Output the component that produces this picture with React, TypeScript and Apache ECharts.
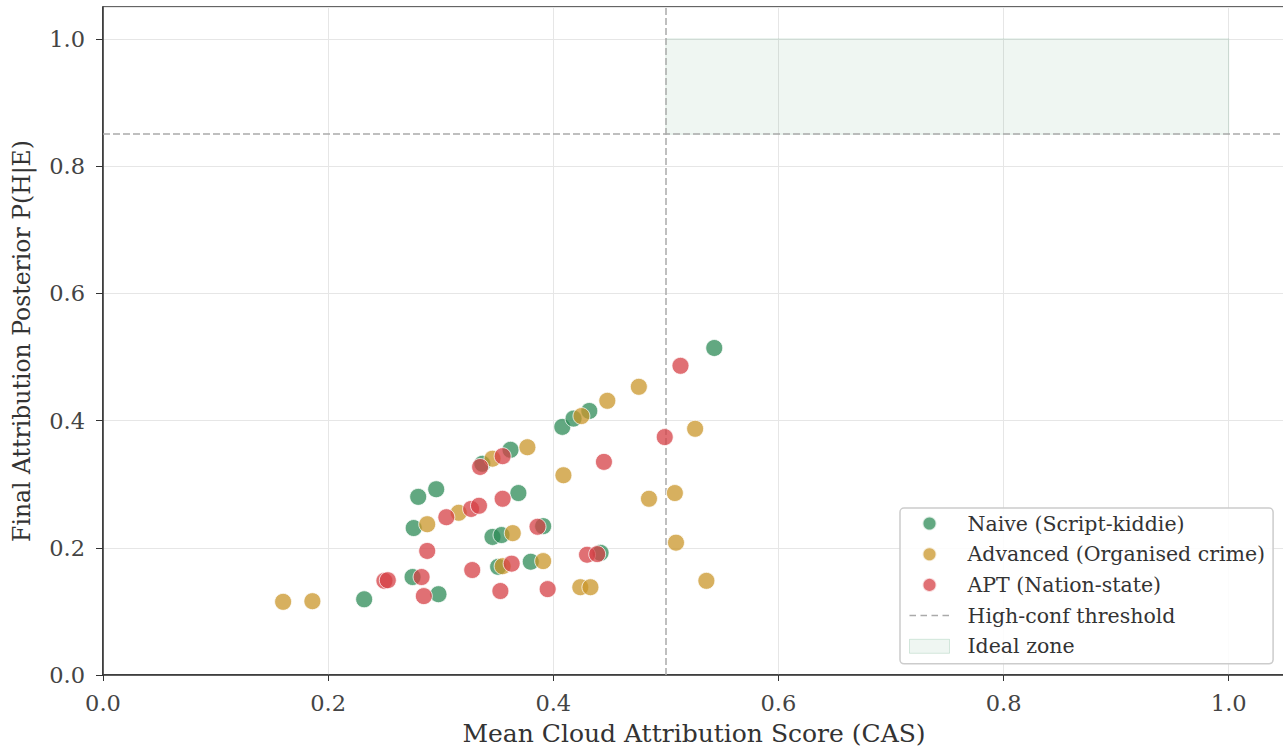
import React, { useEffect, useRef } from "react";
import * as echarts from "echarts";

// ---- data ----
const naiveX = [0.543, 0.408, 0.418, 0.432, 0.362, 0.337, 0.280, 0.296, 0.369, 0.276, 0.346, 0.354, 0.391, 0.275, 0.351, 0.380, 0.442, 0.232, 0.298];
const naiveY = [0.514, 0.390, 0.403, 0.415, 0.354, 0.332, 0.280, 0.292, 0.286, 0.231, 0.217, 0.220, 0.234, 0.154, 0.170, 0.178, 0.192, 0.119, 0.127];

const advX = [0.160, 0.186, 0.288, 0.316, 0.346, 0.377, 0.364, 0.355, 0.391, 0.409, 0.425, 0.448, 0.476, 0.526, 0.485, 0.508, 0.509, 0.536, 0.424, 0.433];
const advY = [0.115, 0.116, 0.237, 0.255, 0.340, 0.358, 0.223, 0.171, 0.179, 0.314, 0.407, 0.431, 0.453, 0.387, 0.277, 0.286, 0.208, 0.148, 0.138, 0.138];

const aptX = [0.513, 0.499, 0.445, 0.335, 0.355, 0.305, 0.327, 0.334, 0.355, 0.386, 0.288, 0.328, 0.363, 0.250, 0.253, 0.283, 0.285, 0.353, 0.395, 0.430, 0.439];
const aptY = [0.486, 0.374, 0.335, 0.327, 0.344, 0.248, 0.261, 0.266, 0.277, 0.233, 0.195, 0.165, 0.175, 0.148, 0.149, 0.154, 0.124, 0.132, 0.135, 0.189, 0.190];

const seriesNames = ["Naive (Script-kiddie)", "Advanced (Organised crime)", "APT (Nation-state)"];
const thresholdName = "High-conf threshold";
const zoneName = "Ideal zone";
const posteriorThreshold = 0.85;
const casThreshold = 0.5;
const zoneX = [0.5, 1.0];
const zoneY = [0.85, 1.0];
const axisMax = 1.05;
const tickInterval = 0.2;

const colors = ["#2E8B57", "#C9962A", "#D64045"];
const FONT = "DejaVu Serif";

// dashed-line legend icon (degenerate corner points fix the box at 40x14)
const DASH_ICON =
  "path://M0,0L0.01,0L0,0.01Z M40,14L39.99,14L40,13.99Z " +
  "M0,6.25H6.5V7.75H0Z M11,6.25H17.5V7.75H11Z M22,6.25H28.5V7.75H22Z M33,6.25H39.5V7.75H33Z";

const zip = (xs: number[], ys: number[]) => xs.map((x, i) => [x, ys[i]]);

export default function App() {
  const ref = useRef<HTMLDivElement>(null);
  useEffect(() => {
    if (!ref.current) return;
    const chart = echarts.init(ref.current, undefined, { renderer: "svg" });
    const scatter = (name: string, data: number[][], color: string) => ({
      name,
      type: "scatter",
      data,
      symbolSize: 17,
      itemStyle: { color, opacity: 0.75, borderColor: "#ffffff", borderWidth: 1 },
      z: 5,
    });
    const tickLabel = {
      fontFamily: FONT,
      fontSize: 22.5,
      color: "#444",
      showMaxLabel: false,
      formatter: (v: number) => v.toFixed(1),
    };
    chart.setOption({
      animation: false,
      backgroundColor: "#ffffff",
      grid: {
        left: 103,
        top: 7,
        width: 1182,
        height: 668,
        show: true,
        borderColor: "#333333",
        borderWidth: 1.5,
        backgroundColor: "transparent",
        outerBoundsMode: "none",
        containLabel: false,
      },
      xAxis: {
        type: "value",
        min: 0,
        max: axisMax,
        interval: tickInterval,
        name: "Mean Cloud Attribution Score (CAS)",
        nameLocation: "middle",
        nameGap: 46,
        nameTextStyle: { fontFamily: FONT, fontSize: 25, color: "#333" },
        axisLine: { lineStyle: { color: "#333", width: 1.5 } },
        axisTick: { show: true, length: 6, lineStyle: { color: "#333" } },
        axisLabel: { ...tickLabel, margin: 16 },
        splitLine: { show: true, lineStyle: { color: "#e6e6e6", width: 1 } },
      },
      yAxis: {
        type: "value",
        min: 0,
        max: axisMax,
        interval: tickInterval,
        name: "Final Attribution Posterior P(H|E)",
        nameLocation: "middle",
        nameGap: 69,
        nameTextStyle: { fontFamily: FONT, fontSize: 23.5, color: "#333" },
        axisLine: { lineStyle: { color: "#333", width: 1.5 } },
        axisTick: { show: true, length: 7, lineStyle: { color: "#333" } },
        axisLabel: { ...tickLabel, margin: 18 },
        splitLine: { show: true, lineStyle: { color: "#e6e6e6", width: 1 } },
      },
      legend: {
        orient: "vertical",
        left: 900,
        top: 508,
        padding: [5, 8, 7, 9],
        itemWidth: 40,
        itemHeight: 14,
        itemGap: 9.7,
        backgroundColor: "rgba(255,255,255,0.85)",
        borderColor: "#cccccc",
        borderWidth: 1.5,
        borderRadius: 4,
        textStyle: {
          fontFamily: FONT,
          fontSize: 20.5,
          lineHeight: 21,
          color: "#333",
          padding: [0, 0, 0, 13],
        },
        data: [
          { name: seriesNames[0], icon: "circle", itemStyle: { color: colors[0], opacity: 0.75 } },
          { name: seriesNames[1], icon: "circle", itemStyle: { color: colors[1], opacity: 0.75 } },
          { name: seriesNames[2], icon: "circle", itemStyle: { color: colors[2], opacity: 0.75 } },
          { name: thresholdName, icon: DASH_ICON, itemStyle: { color: "#aaaaaa" } },
          {
            name: zoneName,
            icon: "rect",
            itemStyle: { color: "rgba(46,139,87,0.08)", borderColor: "rgba(46,139,87,0.18)", borderWidth: 1 },
          },
        ],
      },
      series: [
        {
          name: zoneName,
          type: "line",
          data: [],
          itemStyle: { color: "rgba(46,139,87,0.08)" },
          markArea: {
            silent: true,
            itemStyle: { color: "rgba(46,139,87,0.075)", borderColor: "rgba(46,139,87,0.12)", borderWidth: 1 },
            data: [[{ coord: [zoneX[0], zoneY[0]] }, { coord: [zoneX[1], zoneY[1]] }]],
          },
          z: 1,
        },
        {
          name: thresholdName,
          type: "line",
          data: [],
          symbol: "none",
          itemStyle: { color: "#aaaaaa" },
          lineStyle: { color: "#aaaaaa", width: 1.5, type: [7, 3] },
          markLine: {
            silent: true,
            symbol: "none",
            label: { show: false },
            lineStyle: { color: "#aaaaaa", width: 1.5, type: [7, 3] },
            data: [{ yAxis: posteriorThreshold }, { xAxis: casThreshold }],
          },
          z: 2,
        },
        scatter(seriesNames[0], zip(naiveX, naiveY), colors[0]),
        scatter(seriesNames[1], zip(advX, advY), colors[1]),
        scatter(seriesNames[2], zip(aptX, aptY), colors[2]),
      ],
    });
    return () => chart.dispose();
  }, []);
  return (
    <div
      ref={ref}
      style={{ position: "fixed", left: 0, top: 0, width: 1283, height: 748, background: "#fff" }}
    />
  );
}
